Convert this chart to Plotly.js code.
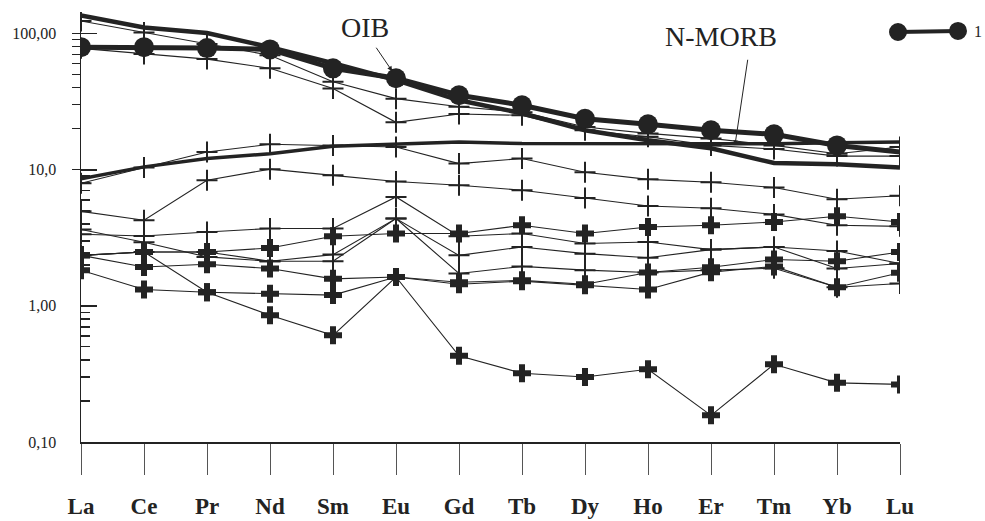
<!DOCTYPE html>
<html>
<head>
<meta charset="utf-8">
<script src="https://cdn.plot.ly/plotly-3.0.1.min.js"></script>
<style>html,body{margin:0;padding:0;background:#fff;}#chart{width:985px;height:521px;}</style>
</head>
<body>
<div id="chart"></div>
<script>
// ---- data ----
const categories = ['La','Ce','Pr','Nd','Sm','Eu','Gd','Tb','Dy','Ho','Er','Tm','Yb','Lu'];
const yTickVals = [0.1, 1, 10, 100];
const yTickText = ['0,10', '1,00', '10,0', '100,00'];

const oib     = [136, 111, 101, 79.5, 60.6, 45.5, 32.4, 26.0, 19.5, 16.5, 14.4, 11.2, 11.0, 10.4];
const nMorb   = [8.6, 10.5, 12.1, 13.1, 14.9, 15.5, 16.0, 15.6, 15.6, 15.6, 15.4, 15.5, 15.8, 16.0];
const sample1 = [79.6, 79.6, 78.3, 76.6, 55.6, 47.0, 35.3, 29.8, 23.7, 21.6, 19.5, 18.2, 15.1, 13.5];

const thinT1 = [124, 102, 84, 69.4, 44.3, 33.3, 29.0, 26.5, 20.6, 18.5, 17.0, 15.1, 13.1, 14.7];
const thinT2 = [78, 71, 65, 55.6, 39.5, 22.3, 25.7, 25.1, 19.5, 17.5, 15.1, 14.2, 12.6, 12.6];
const thinA  = [7.96, 10.4, 13.5, 15.4, 15.1, 14.7, 11.1, 12.1, 9.6, 8.5, 8.1, 7.4, 6.07, 6.45];
const thinA2 = [4.95, 4.26, 8.37, 10.1, 9.1, 8.2, 7.7, 7.07, 6.2, 5.42, 5.21, 4.7, 3.91, 3.84];
const thinC  = [3.36, 3.26, 3.49, 3.70, 3.70, 6.31, 3.25, 3.40, 2.87, 2.95, 2.59, 2.71, 2.53, 2.05];
const thinD  = [3.64, 2.93, 2.29, 2.13, 2.38, 4.38, 2.35, 2.71, 2.42, 2.26, 2.59, 2.71, 1.88, 2.05];
const thinH  = [2.35, 2.49, 2.49, 2.13, 2.13, 4.38, 1.73, 1.95, 1.83, 1.76, 1.83, 1.89, 1.37, 1.46];

const boldB = [2.35, 2.49, 2.49, 2.66, 3.25, 3.40, 3.40, 3.91, 3.40, 3.80, 3.91, 4.13, 4.55, 4.13];
const boldE = [2.35, 1.93, 2.02, 1.88, 1.58, 1.63, 1.49, 1.54, 1.44, 1.76, 1.92, 2.19, 2.13, 2.49];
const boldF = [1.83, 1.32, 1.26, 1.23, 1.20, 1.63, 1.44, 1.52, 1.42, 1.32, 1.77, 1.95, 1.37, 1.75];
const boldL = [2.35, 2.49, 1.26, 0.853, 0.608, 1.63, 0.43, 0.32, 0.30, 0.342, 0.157, 0.372, 0.272, 0.265];

// ---- styling ----
const INK = '#232323';
const SERIF = '"Liberation Serif", "Times New Roman", Times, serif';
const traces = [];

function thin(y) {
  return {x: categories, y: y, type: 'scatter', mode: 'lines+markers', hoverinfo: 'skip',
    line: {color: INK, width: 1.1},
    marker: {symbol: 'cross-thin', size: 15, opacity: 1, line: {color: INK, width: 2}}};
}
function bold(y) {
  return {x: categories, y: y, type: 'scatter', mode: 'lines+markers', hoverinfo: 'skip',
    line: {color: INK, width: 1.1},
    marker: {symbol: 'cross', size: 15, color: INK, opacity: 1, line: {width: 0}}};
}

[thinT1, thinT2, thinA, thinA2, thinC, thinD, thinH].forEach(s => traces.push(thin(s)));
[boldB, boldE, boldF, boldL].forEach(s => traces.push(bold(s)));

traces.push({x: categories, y: oib, type: 'scatter', mode: 'lines', hoverinfo: 'skip',
  line: {color: INK, width: 4.5}});
traces.push({x: categories, y: nMorb, type: 'scatter', mode: 'lines', hoverinfo: 'skip',
  line: {color: INK, width: 3.5}});
traces.push({x: categories, y: sample1, type: 'scatter', mode: 'lines+markers', hoverinfo: 'skip',
  line: {color: INK, width: 5},
  marker: {symbol: 'circle', color: INK, opacity: 1, line: {width: 0},
           size: sample1.map((v, i) => i === sample1.length - 1 ? 0 : 20)}});

// helper trace so the overlaid tick axis is drawn
traces.push({x: categories, y: oib, type: 'scatter', mode: 'lines', yaxis: 'y2',
  line: {width: 0}, opacity: 0, hoverinfo: 'skip'});

const yRange = [-1, 2.159];
const minorLow = [0.2,0.3,0.4,0.5,0.6,0.7,0.8,0.9,2,3,4,5,6,7,8,9];
const upperTicks = [10,20,30,40,50,60,70,80,90,100];

const layout = {
  width: 985, height: 521,
  margin: {l: 81, r: 85, t: 12, b: 79},
  paper_bgcolor: '#fff', plot_bgcolor: '#fff',
  showlegend: false,
  xaxis: {
    type: 'category', range: [0, 13],
    showline: true, linecolor: INK, linewidth: 1.5,
    ticks: 'outside', ticklen: 31, tickwidth: 1, tickcolor: '#555',
    showgrid: false, zeroline: false,
    tickfont: {family: SERIF, size: 23, color: INK, weight: 'bold'},
    ticklabelstandoff: 12
  },
  yaxis: {
    type: 'log', range: yRange,
    showline: true, linecolor: INK, linewidth: 1.5,
    ticks: 'inside', ticklen: 16, tickwidth: 1.5, tickcolor: INK,
    tickvals: yTickVals, ticktext: yTickText,
    tickfont: {family: SERIF, size: 16, color: INK},
    ticklabelstandoff: 20,
    showgrid: false, zeroline: false,
    minor: {tickvals: minorLow, ticks: 'inside', ticklen: 9, tickwidth: 1.2, tickcolor: INK, showgrid: false}
  },
  yaxis2: {
    type: 'log', range: yRange, overlaying: 'y', anchor: 'x', side: 'left',
    showline: false, showgrid: false, zeroline: false,
    ticks: 'outside', ticklen: 8, tickwidth: 1.2, tickcolor: INK,
    tickvals: upperTicks, showticklabels: false
  },
  annotations: [
    {xref: 'paper', yref: 'paper', x: 0.3468, y: 0.965, text: 'OIB', showarrow: false,
     font: {family: SERIF, size: 28, color: INK}, xanchor: 'center', yanchor: 'middle'},
    {xref: 'x', yref: 'y', x: 4.94, y: 1.724, text: '', showarrow: true,
     ax: -17, ay: -25, arrowhead: 2, arrowsize: 1, arrowwidth: 1, arrowcolor: INK},
    {xref: 'paper', yref: 'paper', x: 0.7814, y: 0.944, text: 'N-MORB', showarrow: false,
     font: {family: SERIF, size: 28, color: INK}, xanchor: 'center', yanchor: 'middle'},
    {xref: 'x', yref: 'y', x: 10.38, y: 1.18, text: '', showarrow: true,
     ax: 13, ay: -87, arrowhead: 2, arrowsize: 1, arrowwidth: 1, arrowcolor: INK},
    {xref: 'paper', yref: 'paper', x: 1.0952, y: 0.955, text: '1', showarrow: false,
     font: {family: SERIF, size: 16, color: INK}, xanchor: 'center', yanchor: 'middle'}
  ],
  shapes: [
    {type: 'line', xref: 'paper', yref: 'paper', x0: 0.9976, x1: 1.0708, y0: 0.9535, y1: 0.956,
     line: {color: INK, width: 4}},
    {type: 'circle', xref: 'paper', yref: 'paper', x0: 0.98657, x1: 1.00855, y0: 0.93256, y1: 0.97442,
     fillcolor: INK, line: {color: INK, width: 0}},
    {type: 'circle', xref: 'paper', yref: 'paper', x0: 1.05983, x1: 1.08181, y0: 0.935, y1: 0.97686,
     fillcolor: INK, line: {color: INK, width: 0}}
  ]
};

Plotly.newPlot('chart', traces, layout, {displayModeBar: false, staticPlot: true});
</script>
</body>
</html>
